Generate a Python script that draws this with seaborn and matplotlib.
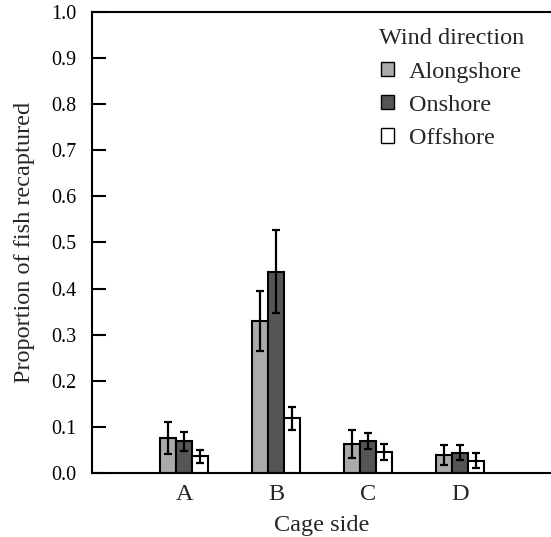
import matplotlib
matplotlib.use("Agg")
import matplotlib.pyplot as plt
import pandas as pd
import seaborn as sns

# values
sides = ["A", "B", "C", "D"]
winds = ["Alongshore", "Onshore", "Offshore"]
alongshore = [0.076, 0.330, 0.063, 0.039]
onshore = [0.069, 0.437, 0.070, 0.044]
offshore = [0.036, 0.119, 0.046, 0.027]
alongshore_err = [0.035, 0.065, 0.031, 0.022]
onshore_err = [0.021, 0.091, 0.018, 0.016]
offshore_err = [0.014, 0.025, 0.017, 0.016]
colors = ["#aaaaaa", "#555555", "#ffffff"]

df = pd.DataFrame({
    "side": sides * 3,
    "wind": [w for w in winds for _ in sides],
    "value": alongshore + onshore + offshore,
})
errs = [alongshore_err, onshore_err, offshore_err]

sns.set_style("white")
plt.rcParams["font.family"] = ["Liberation Serif", "DejaVu Serif"]

fig = plt.figure(figsize=(5.51, 5.37), dpi=100)
ax = fig.add_axes([0.167, 0.119, 0.835, 0.859])

sns.barplot(data=df, x="side", y="value", hue="wind", order=sides,
            hue_order=winds, palette=colors, errorbar=None, width=0.52,
            edgecolor="black", linewidth=1.5, ax=ax)

# error bars on top of the bar centres
for cont, err in zip(ax.containers, errs):
    xs = [p.get_x() + p.get_width() / 2 for p in cont.patches]
    hs = [p.get_height() for p in cont.patches]
    ax.errorbar(xs, hs, yerr=err, fmt="none", ecolor="black",
                elinewidth=1.6, capsize=2.8, capthick=1.6)

ax.set_xlim(-1, 4)
ax.set_ylim(0, 1.0)
ax.set_yticks([i / 10 for i in range(11)])
ax.set_yticklabels([f"{i / 10:.1f}" for i in range(11)])
ax.set_xlabel("Cage side", fontsize=17.5, labelpad=7)
ax.set_ylabel("Proportion of fish recaptured", fontsize=17.5, labelpad=12)
ax.tick_params(axis="y", direction="in", length=10, width=1.5, left=True,
               labelsize=14.5, colors="black", pad=11)
ax.tick_params(axis="x", length=0, labelsize=17.5, pad=8)
for s in ["left", "bottom", "top"]:
    ax.spines[s].set_linewidth(1.5)
    ax.spines[s].set_color("black")
ax.spines["right"].set_visible(False)

leg = ax.legend(title="Wind direction", loc="upper right", frameon=False,
                fontsize=17.5, title_fontsize=17.5, handlelength=0.55,
                handleheight=0.55, handletextpad=0.6, labelspacing=0.5,
                borderaxespad=0, bbox_to_anchor=(0.96, 0.985))
for h in leg.legend_handles:
    h.set_linewidth(1.0)

fig.savefig("out.png", dpi=100)
